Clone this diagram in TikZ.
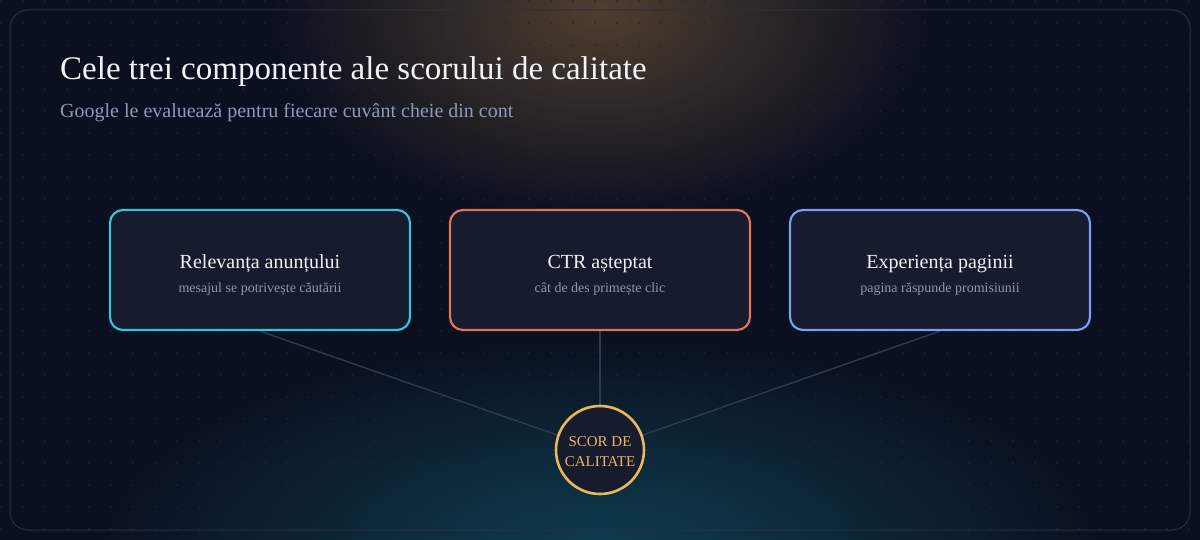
\documentclass[tikz,border=0pt]{standalone}
\usepackage{fontspec}
\setmainfont{Liberation Serif}
\usetikzlibrary{fadings}
\definecolor{bg}{HTML}{0B1020}
\definecolor{warm}{HTML}{6A5234}
\definecolor{teal}{HTML}{0F4658}
\definecolor{frame}{HTML}{2A3142}
\definecolor{dotc}{HTML}{1F2638}
\definecolor{boxfill}{HTML}{161C2E}
\definecolor{cyanc}{HTML}{3CC0D8}
\definecolor{coral}{HTML}{E0725A}
\definecolor{bluec}{HTML}{7E9CEE}
\definecolor{gold}{HTML}{E8B860}
\definecolor{subc}{HTML}{8E9AB8}
\definecolor{boxsub}{HTML}{8D98B3}
\definecolor{linkc}{HTML}{2E3B4F}
\definecolor{titlec}{HTML}{F2F2F5}
\tikzfading[name=glow, inner color=transparent!0, outer color=transparent!100]
\pgfdeclarelayer{backdrop}
\pgfdeclarelayer{links}
\pgfsetlayers{backdrop,links,main}
\begin{document}
\begin{tikzpicture}[x=1pt,y=-1pt,
  card/.style={draw, line width=2.2pt, fill=boxfill, rounded corners=13pt, minimum width=300pt, minimum height=120pt, inner sep=0pt},
  cardtitle/.style={text=titlec, font=\fontsize{20}{24}\selectfont, anchor=base},
  cardsub/.style={text=boxsub, font=\fontsize{14}{17}\selectfont, anchor=base},
  link/.style={draw=linkc, line width=1.4pt}]
\useasboundingbox (0,0) rectangle (1200,540);
\begin{pgfonlayer}{backdrop}
\fill[bg] (0,0) rectangle (1200,540);
\fill[warm, path fading=glow, fill opacity=0.7] (600,10) ellipse (330 and 210);
\fill[teal, path fading=glow, fill opacity=0.85] (600,550) ellipse (500 and 210);
\foreach \i in {0,...,54} {\foreach \j in {0,...,24} {
  \fill[dotc] (1+22*\i,1+22*\j) circle (0.9);
}}
\draw[frame, line width=1pt, rounded corners=18pt] (10,10) rectangle (1190,530);
\end{pgfonlayer}
% title
\node[anchor=base west, text=titlec, font=\fontsize{33}{39}\selectfont, inner sep=0pt] (title) at (60,80) {Cele trei componente ale scorului de calitate};
\node[anchor=base west, text=subc, font=\fontsize{20}{24}\selectfont, inner sep=0pt] (subtitle) at (60,118) {Google le evaluează pentru fiecare cuvânt cheie din cont};
% cards and score
\node[card, draw=cyanc] (c1) at (260,270) {};
\node[card, draw=coral] (c2) at (600,270) {};
\node[card, draw=bluec] (c3) at (940,270) {};
\node[circle, draw=gold, line width=2.6pt, fill=boxfill, minimum size=88pt, inner sep=0pt] (score) at (600,450) {};
\node[text=gold, font=\fontsize{15}{20}\selectfont, align=center] (scoretext) at (600,452) {SCOR DE\\CALITATE};
% links
\begin{pgfonlayer}{links}
\path[link] (c1.south) -- (score.center);
\path[link] (c2.south) -- (score.center);
\path[link] (c3.south) -- (score.center);
\end{pgfonlayer}
% card texts
\node[cardtitle] (t1) at (260,269) {Relevanța anunțului};
\node[cardsub] (s1) at (260,293) {mesajul se potrivește căutării};
\node[cardtitle] (t2) at (600,269) {CTR așteptat};
\node[cardsub] (s2) at (600,293) {cât de des primește clic};
\node[cardtitle] (t3) at (940,269) {Experiența paginii};
\node[cardsub] (s3) at (940,293) {pagina răspunde promisiunii};
\end{tikzpicture}
\end{document}
